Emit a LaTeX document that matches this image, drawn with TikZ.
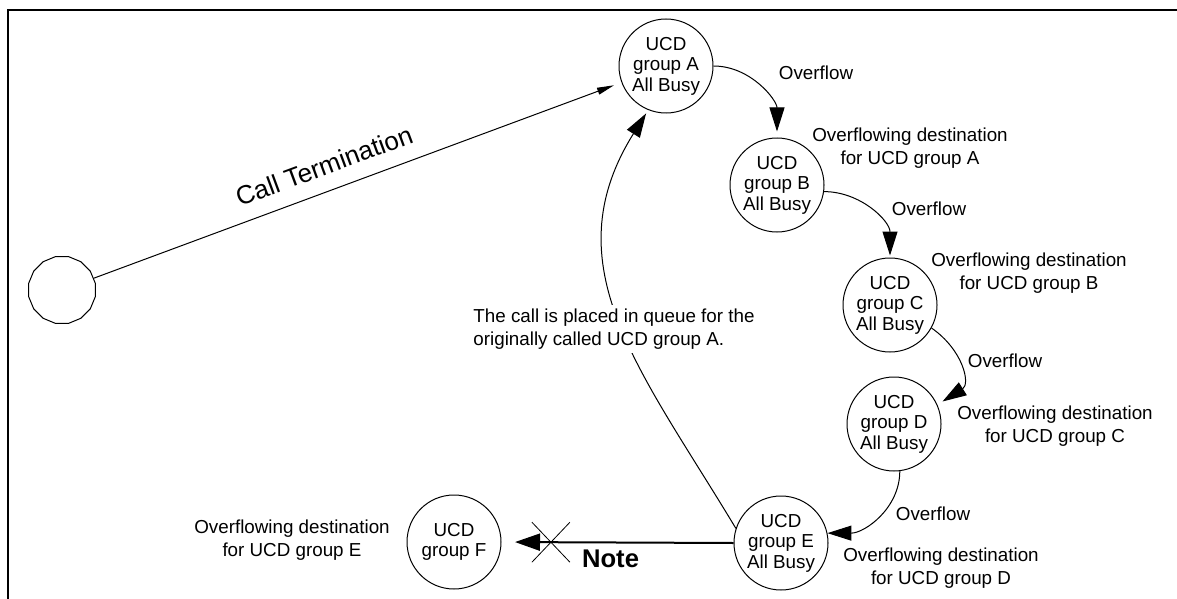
\documentclass[tikz,border=0pt]{standalone}
\usepackage{fontspec}
\setmainfont{Liberation Sans}
\usetikzlibrary{arrows.meta,positioning,shapes.geometric}

\begin{document}
\begin{tikzpicture}[
    x=0.5pt, y=-0.5pt,
    every node/.style={font=\fontsize{9.4}{11.4}\selectfont},
    ucd/.style={
        circle, draw, line width=0.5pt,
        minimum size=47pt, inner sep=0pt,
        align=center, font=\fontsize{9.4}{10.3}\selectfont
    },
    origin/.style={
        regular polygon, regular polygon sides=16, draw,
        minimum size=34pt, inner sep=0pt, line width=0.5pt
    },
    dest/.style={align=center},
    ovf/.style={-{Triangle[length=12pt,width=7.5pt]}, line width=0.5pt},
    term/.style={-{Triangle[length=8.5pt,width=3.5pt]}, line width=0.5pt},
    blocked/.style={-{Triangle[length=12.5pt,width=8.5pt]}, line width=1pt}
]
\useasboundingbox (0,0) rectangle (1177,599);

% --- Frame ---
\draw[line width=1pt] (8,599) -- (8,10) -- (1177,10);

% --- Calling party ---
\node[origin] (caller) at (62,290) {};

% --- UCD groups ---
\node[ucd] (A) at (666,66) {UCD\\group A\\All Busy};
\node[ucd] (B) at (777,185) {UCD\\group B\\All Busy};
\node[ucd] (C) at (890,305) {UCD\\group C\\All Busy};
\node[ucd] (D) at (894,424) {UCD\\group D\\All Busy};
\node[ucd] (E) at (781,543) {UCD\\group E\\All Busy};
\node[ucd] (F) at (454,542) {UCD\\group F};

% --- Labels ---
\node (ovfAB) at (816,73) {Overflow};
\node[dest] (dstA) at (910,148) {Overflowing destination\\for UCD group A};
\node (ovfBC) at (929,209) {Overflow};
\node[dest] (dstB) at (1029,273) {Overflowing destination\\for UCD group B};
\node (ovfCD) at (1005,361) {Overflow};
\node[dest] (dstC) at (1055,426) {Overflowing destination\\for UCD group C};
\node (ovfDE) at (933,514) {Overflow};
\node[dest] (dstD) at (941,568) {Overflowing destination\\for UCD group D};
\node[dest] (dstE) at (292,540) {Overflowing destination\\for UCD group E};

% --- Arrows ---
% caller -> A
\draw[term, shorten >=4pt] (caller) -- node[sloped, above=4.3pt, pos=0.453, font=\fontsize{13}{15}\selectfont] (calltxt) {Call Termination} (A);

% overflow chain
\draw[ovf, shorten >=3pt] (A.east) to[out=0, in=90] (B.north);
\draw[ovf, shorten >=1pt] (B.-8) to[out=0, in=90] (C.north);
\draw[ovf, shorten >=3pt] (C.-29) to[out=-35, in=32, looseness=1.3] (D.24);
\draw[ovf] (D.-83) to[out=-90, in=0] (E.12);

% E -> A (queued)
\draw[ovf, shorten >=2pt] (E.162) to[out=121, in=238, looseness=1.1] (A.248);
\node[align=left, fill=white, inner sep=2pt] (queue) at (614,329) {The call is placed in queue for the\\originally called UCD group A.};

% E -> F (not allowed)
\draw[blocked, shorten >=6.75pt] (E.west) -- coordinate[pos=0.787] (cut) node[below=0pt, pos=0.53, font=\fontsize{12.8}{15}\selectfont\bfseries] (note) {Note} (F.east);
\draw[line width=0.4pt] (cut) ++(-19,-20) -- ++(38,40) (cut) ++(19,-20) -- ++(-38,40);

\end{tikzpicture}
\end{document}
